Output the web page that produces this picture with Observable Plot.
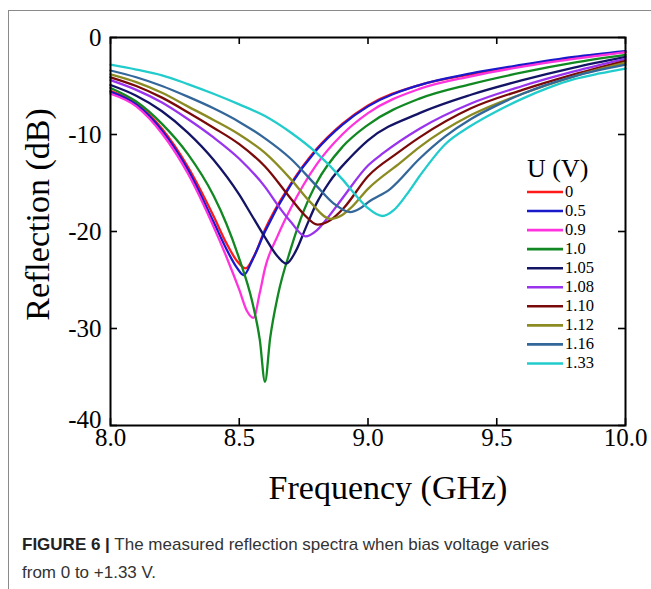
<!DOCTYPE html>
<html><head><meta charset="utf-8">
<script src="https://cdn.jsdelivr.net/npm/d3@7"></script>
<script src="https://cdn.jsdelivr.net/npm/@observablehq/plot@0.6"></script>
<style>
body{margin:0;background:#fff;width:651px;height:589px;overflow:hidden;position:relative;font-family:"Liberation Sans",Arial,sans-serif;}
#chart{position:absolute;left:0;top:0;}
#legend{position:absolute;left:0;top:0;}
#frame{position:absolute;left:8px;top:10px;width:643px;height:579px;border-top:1px solid #8a8a8a;border-left:1px solid #8a8a8a;pointer-events:none;}
#caption{position:absolute;left:22px;top:531px;font-size:17px;line-height:28px;color:#333;}
#caption b{color:#222;}
</style></head><body>
<div id="chart"></div>
<svg id="legend" width="651" height="505"></svg>
<div id="frame"></div>
<div id="caption"><b>FIGURE 6 |</b> The measured reflection spectra when bias voltage varies<br>from 0 to +1.33 V.</div>
<script>
// ---- data ----
const voltages = ["0", "0.5", "0.9", "1.0", "1.05", "1.08", "1.10", "1.12", "1.16", "1.33"];
const colors = ["#ff1a1a", "#1a1acc", "#ff33dd", "#118822", "#141466", "#9933ee", "#7a0a0a", "#8b8b22", "#336699", "#22cccc"];
const xTicks = [8.0, 8.5, 9.0, 9.5, 10.0];
const yTicks = [0, -10, -20, -30, -40];
const yTicksUpper = [0, -10, -20, -30];
const yTicksBottom = [-40];

const f_0    = [8.0, 8.1, 8.2, 8.3, 8.4, 8.45, 8.49, 8.525, 8.56, 8.6, 8.7, 8.8, 8.9, 9.0, 9.2, 9.4, 9.6, 9.8, 10.0];
const db_0   = [-5.5, -6.8, -9.4, -13.3, -18.4, -21.2, -23.0, -23.8, -22.4, -19.8, -15.1, -11.5, -8.9, -7.0, -4.9, -3.8, -2.9, -2.1, -1.5];
const f_05   = [8.0, 8.1, 8.2, 8.3, 8.4, 8.45, 8.49, 8.517, 8.55, 8.6, 8.7, 8.8, 8.9, 9.0, 9.2, 9.4, 9.6, 9.8, 10.0];
const db_05  = [-5.6, -6.9, -9.6, -13.6, -19.0, -21.8, -23.7, -24.5, -23.0, -20.0, -15.2, -11.6, -9.0, -7.1, -4.9, -3.7, -2.8, -2.0, -1.4];
const f_09   = [8.0, 8.1, 8.2, 8.3, 8.4, 8.45, 8.5, 8.53, 8.555, 8.58, 8.6, 8.65, 8.7, 8.8, 8.9, 9.0, 9.2, 9.4, 9.6, 9.8, 10.0];
const db_09  = [-5.8, -7.1, -9.9, -14.0, -19.5, -22.6, -26.0, -28.2, -28.9, -26.3, -23.8, -20.4, -17.6, -13.1, -10.0, -7.8, -5.3, -4.0, -3.0, -2.2, -1.5];
const f_10   = [8.0, 8.1, 8.2, 8.3, 8.4, 8.45, 8.5, 8.55, 8.58, 8.6, 8.62, 8.65, 8.7, 8.75, 8.8, 8.9, 9.0, 9.2, 9.4, 9.6, 9.8, 10.0];
const db_10  = [-5.2, -6.6, -8.9, -12.0, -16.3, -19.2, -22.8, -27.2, -31.2, -35.5, -31.0, -26.6, -21.8, -17.9, -15.0, -11.3, -9.0, -6.3, -4.8, -3.6, -2.6, -1.8];
const f_105  = [8.0, 8.1, 8.2, 8.3, 8.4, 8.5, 8.55, 8.6, 8.65, 8.683, 8.72, 8.76, 8.8, 8.85, 8.93, 9.0, 9.2, 9.4, 9.6, 9.8, 10.0];
const db_105 = [-4.9, -6.0, -7.6, -9.8, -12.6, -16.2, -18.4, -20.6, -22.6, -23.3, -22.0, -19.5, -17.1, -14.9, -12.4, -10.6, -7.8, -5.9, -4.4, -3.1, -2.0];
const f_108  = [8.0, 8.1, 8.2, 8.3, 8.4, 8.5, 8.6, 8.65, 8.7, 8.757, 8.8, 8.843, 8.9, 9.0, 9.06, 9.2, 9.4, 9.6, 9.8, 10.0];
const db_108 = [-4.4, -5.4, -6.7, -8.4, -10.3, -12.5, -15.4, -17.3, -19.0, -20.5, -19.9, -18.6, -16.6, -13.2, -11.9, -9.4, -6.8, -5.0, -3.5, -2.2];
const f_110  = [8.0, 8.1, 8.2, 8.3, 8.4, 8.5, 8.6, 8.7, 8.75, 8.804, 8.85, 8.905, 9.0, 9.115, 9.2, 9.4, 9.6, 9.8, 10.0];
const db_110 = [-4.1, -5.0, -6.2, -7.7, -9.3, -11.0, -13.3, -16.6, -18.2, -19.3, -18.9, -17.6, -14.3, -11.9, -10.3, -7.3, -5.4, -3.8, -2.4];
const f_112  = [8.0, 8.1, 8.2, 8.3, 8.4, 8.5, 8.6, 8.7, 8.777, 8.854, 8.9, 8.932, 9.0, 9.126, 9.2, 9.4, 9.6, 9.8, 10.0];
const db_112 = [-3.8, -4.6, -5.7, -7.1, -8.5, -10.0, -11.9, -14.6, -17.0, -18.7, -18.3, -17.6, -15.6, -12.9, -11.3, -8.0, -5.8, -4.0, -2.6];
const f_116  = [8.0, 8.1, 8.2, 8.3, 8.4, 8.5, 8.6, 8.7, 8.8, 8.866, 8.93, 8.97, 9.0, 9.087, 9.2, 9.3, 9.4, 9.5, 9.6, 9.8, 10.0];
const db_116 = [-3.4, -4.1, -5.0, -6.1, -7.3, -8.7, -10.4, -12.5, -15.3, -17.1, -18.0, -17.6, -17.0, -15.6, -12.5, -10.2, -8.4, -7.0, -5.8, -4.0, -2.8];
const f_133  = [8.0, 8.1, 8.2, 8.3, 8.4, 8.5, 8.6, 8.7, 8.8, 8.9, 8.96, 9.0, 9.056, 9.1, 9.15, 9.2, 9.3, 9.4, 9.5, 9.6, 9.7, 9.8, 9.9, 10.0];
const db_133 = [-2.8, -3.3, -3.9, -4.8, -5.8, -6.9, -8.1, -9.8, -11.9, -14.6, -16.5, -17.6, -18.4, -17.8, -16.2, -14.3, -11.0, -9.1, -7.6, -6.3, -5.2, -4.3, -3.7, -3.2];

const freqs = [f_0, f_05, f_09, f_10, f_105, f_108, f_110, f_112, f_116, f_133];
const refl  = [db_0, db_05, db_09, db_10, db_105, db_108, db_110, db_112, db_116, db_133];

const rows = [];
voltages.forEach((u, i) => freqs[i].forEach((f, j) => rows.push({u, f, db: refl[i][j]})));

// ---- chart ----
const serif = "'Liberation Serif', 'Times New Roman', serif";
const W = 651, H = 505, mL = 110, mR = 26, mT = 37, mB = 80;
const pw = W - mL - mR, ph = H - mT - mB, tk = 7;

const chart = Plot.plot({
  width: W, height: H,
  marginLeft: mL, marginRight: mR, marginTop: mT, marginBottom: mB,
  x: {domain: [8, 10]},
  y: {domain: [-40, 0]},
  color: {domain: voltages, range: colors},
  style: {fontFamily: serif, background: "white", color: "black", overflow: "visible"},
  marks: [
    Plot.axisX({ticks: xTicks, tickSize: 0, tickPadding: 3, tickFormat: d3.format(".1f"), fontSize: 25, label: null}),
    Plot.axisY({ticks: yTicksUpper, tickSize: 0, tickPadding: 9, tickFormat: d => String(d), fontSize: 25, label: null}),
    Plot.axisY({ticks: yTicksBottom, tickSize: 0, tickPadding: 9, dy: -6, tickFormat: d => String(d), fontSize: 25, label: null}),
    Plot.line(rows, {x: "f", y: "db", z: "u", stroke: "u", strokeWidth: 2.3, curve: "monotone-x"}),
    Plot.tickY(yTicks, {y: d => d, insetRight: pw - tk, stroke: "black", strokeWidth: 1.6}),
    Plot.tickY(yTicks, {y: d => d, insetLeft: pw - tk, stroke: "black", strokeWidth: 1.6}),
    Plot.tickX(xTicks, {x: d => d, insetTop: ph - tk, stroke: "black", strokeWidth: 1.6}),
    Plot.tickX(xTicks, {x: d => d, insetBottom: ph - tk, stroke: "black", strokeWidth: 1.6}),
    Plot.frame({stroke: "black", strokeWidth: 2}),
    Plot.text(["Frequency (GHz)"], {frameAnchor: "bottom", textAnchor: "middle", lineAnchor: "middle", dy: 63, dx: 20, fontSize: 34, fontFamily: serif}),
    Plot.text(["Reflection (dB)"], {frameAnchor: "left", textAnchor: "middle", lineAnchor: "middle", dx: -72, dy: -17, rotate: -90, fontSize: 34, fontFamily: serif})
  ]
});
document.getElementById("chart").appendChild(chart);

// ---- legend (line swatches) ----
const lg = d3.select("#legend");
const lx = 527, ly = 192, step = 19.05, len = 36;
lg.append("text").attr("x", lx).attr("y", ly - 21).attr("dominant-baseline", "middle")
  .attr("font-family", serif).attr("font-size", 26).text("U (V)");
voltages.forEach((u, i) => {
  const y = ly + i * step;
  lg.append("line").attr("x1", lx).attr("x2", lx + len).attr("y1", y).attr("y2", y)
    .attr("stroke", colors[i]).attr("stroke-width", 2.6);
  lg.append("text").attr("x", lx + len + 2).attr("y", y + 1).attr("dominant-baseline", "middle")
    .attr("font-family", serif).attr("font-size", 16.5).text(u);
});
</script>
</body></html>
